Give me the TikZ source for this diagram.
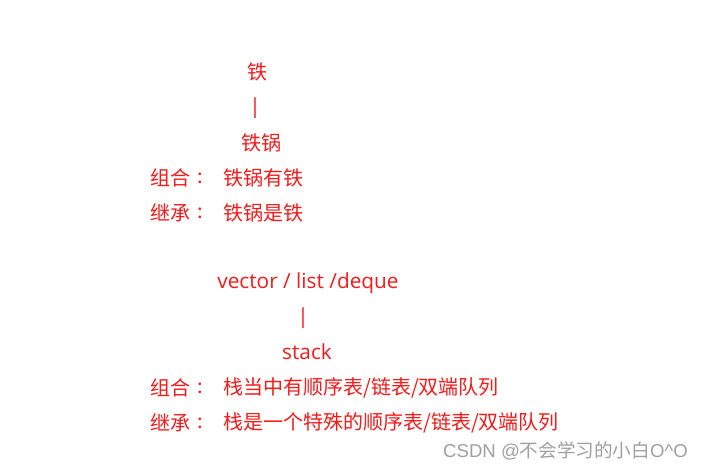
\documentclass[tikz,border=0pt]{standalone}
\usepackage{fontspec}
\setmainfont{Noto Sans CJK SC}
\newfontfamily\latinf{Open Sans}
\newfontfamily\wmlatin{Liberation Sans}
\definecolor{txtred}{HTML}{F51B1B}
\definecolor{wmgray}{HTML}{A0A0A0}
\begin{document}
\begin{tikzpicture}[x=1pt,y=-1pt,
  t/.style={text=txtred,font=\fontsize{20}{20}\selectfont,inner sep=0pt},
  lt/.style={t,anchor=west},
  lat/.style={t,font=\latinf\fontsize{20.8}{20.8}\selectfont},
  wm/.style={text=wmgray,font=\fontsize{18.6}{18.6}\selectfont,inner sep=0pt,anchor=west}]
\useasboundingbox[fill=white] (0,0) rectangle (708,470);
\node[t] (tie) at (257,72) {铁};
\node[lat] (bar1) at (255,108) {|};
\node[t] (tieguo) at (261,143) {铁锅};
\node[lt] (zh1) at (150,178) {组合};
\node[t] (zh1k) at (200,178) {:};
\node[lt] (zh1c) at (223,178) {铁锅有铁};
\node[lt] (jc1) at (150,213) {继承};
\node[t] (jc1k) at (200,213) {:};
\node[lt] (jc1c) at (223,213) {铁锅是铁};
\node[lat] (vld) at (308,283) {vector / list /deque};
\node[lat] (bar2) at (303,318) {|};
\node[lat] (stack) at (307,352) {stack};
\node[lt] (zh2) at (150,388) {组合};
\node[t] (zh2k) at (200,388) {:};
\node[lt] (zh2c) at (223,388) {栈当中有顺序表/链表/双端队列};
\node[lt] (jc2) at (150,423) {继承};
\node[t] (jc2k) at (200,423) {:};
\node[lt] (jc2c) at (223,423) {栈是一个特殊的顺序表/链表/双端队列};
\node[wm] (wmk) at (443,451) {{\wmlatin CSDN @}不会学习的小白{\wmlatin O\^{}O}};
\end{tikzpicture}
\end{document}
